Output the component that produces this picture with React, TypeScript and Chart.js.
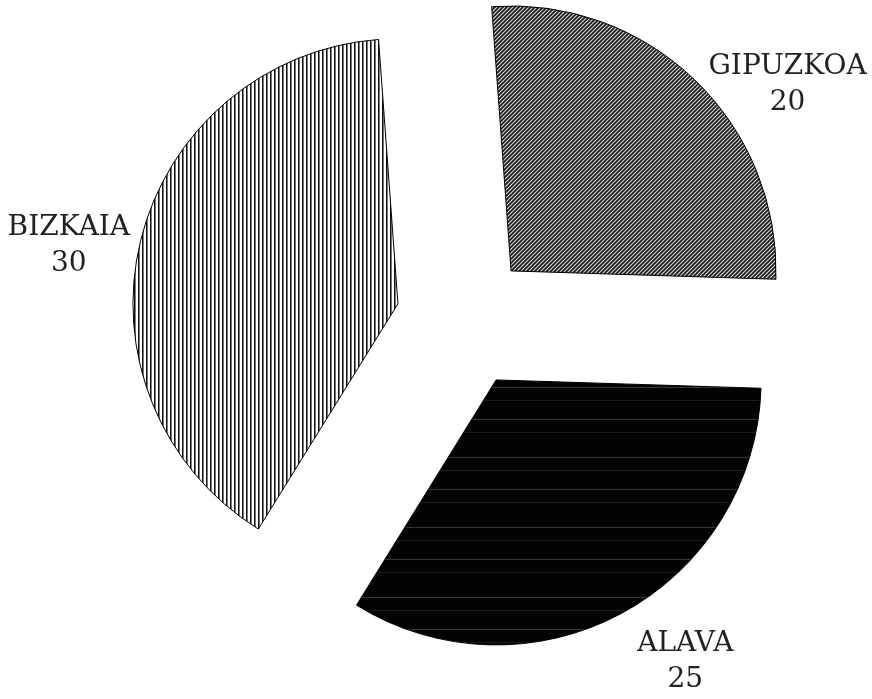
import React, { useEffect, useRef } from "react";
import { Chart, registerables } from "chart.js";

Chart.register(...registerables);

// Provinces, in clockwise drawing order starting just below 3 o'clock
const provinces = ["ALAVA", "BIZKAIA", "GIPUZKOA"];
const counts = [25, 30, 20];

// Layout constants
const EXPLODE = 68; // how far each slice is pulled out from the common centre
const PIE_RADIUS = 265;
const LABEL_RADIUS = 403;
const LABEL_NUDGE_DEG = [-5.1, -2.5, 9.6];
const LABEL_FONT = "28px 'DejaVu Serif'";

function makePattern(
  w: number,
  h: number,
  paint: (g: CanvasRenderingContext2D) => void
): CanvasPattern | string {
  const c = document.createElement("canvas");
  c.width = w;
  c.height = h;
  const g = c.getContext("2d");
  if (!g) return "#777";
  paint(g);
  return g.createPattern(c, "repeat") || "#777";
}

// ALAVA: near-solid black with a few faint horizontal streaks
const alavaFill = () =>
  makePattern(8, 70, (g) => {
    g.fillStyle = "#030303";
    g.fillRect(0, 0, 8, 70);
    g.fillStyle = "#3a3a3a";
    g.fillRect(0, 9, 8, 1);
    g.fillRect(0, 47, 8, 1);
    g.fillStyle = "#1f1f1f";
    g.fillRect(0, 22, 8, 1);
    g.fillRect(0, 60, 8, 1);
  });

// BIZKAIA: thin vertical lines on white
const bizkaiaFill = () =>
  makePattern(4, 4, (g) => {
    g.fillStyle = "#ffffff";
    g.fillRect(0, 0, 4, 4);
    g.fillStyle = "#111111";
    g.fillRect(0, 0, 1, 4);
    g.fillStyle = "#7a7a7a";
    g.fillRect(1, 0, 1, 4);
  });

// GIPUZKOA: dense diagonal hatching
const gipuzkoaFill = () =>
  makePattern(4, 4, (g) => {
    g.fillStyle = "#ffffff";
    g.fillRect(0, 0, 4, 4);
    g.strokeStyle = "#111111";
    g.lineWidth = 1.9;
    g.beginPath();
    g.moveTo(-1, 5);
    g.lineTo(5, -1);
    g.moveTo(-1, 1);
    g.lineTo(1, -1);
    g.moveTo(3, 5);
    g.lineTo(5, 3);
    g.stroke();
  });

// Draws every slice displaced outward along its own bisector
const explodePlugin = {
  id: "explodeSlices",
  beforeDatasetDraw(chart: any, args: any) {
    const ctx = chart.ctx as CanvasRenderingContext2D;
    args.meta.data.forEach((arc: any) => {
      const { startAngle, endAngle } = arc.getProps(["startAngle", "endAngle"], true);
      const mid = (startAngle + endAngle) / 2;
      ctx.save();
      ctx.translate(Math.cos(mid) * EXPLODE, Math.sin(mid) * EXPLODE);
      arc.draw(ctx);
      ctx.restore();
    });
    return false;
  },
};

// Name and value printed outside each slice
const sliceLabelPlugin = {
  id: "sliceLabels",
  afterDatasetsDraw(chart: any) {
    const ctx = chart.ctx as CanvasRenderingContext2D;
    const meta = chart.getDatasetMeta(0);
    ctx.save();
    ctx.font = LABEL_FONT;
    ctx.fillStyle = "#222222";
    ctx.textAlign = "center";
    ctx.textBaseline = "alphabetic";
    meta.data.forEach((arc: any, i: number) => {
      const { x, y, startAngle, endAngle } = arc.getProps(
        ["x", "y", "startAngle", "endAngle"],
        true
      );
      const a = (startAngle + endAngle) / 2 + (LABEL_NUDGE_DEG[i] * Math.PI) / 180;
      const cx = x + Math.cos(a) * LABEL_RADIUS;
      const cy = y + Math.sin(a) * LABEL_RADIUS;
      ctx.fillText(provinces[i], cx, cy - 18 + 12);
      ctx.fillText(String(counts[i]), cx, cy + 18 + 12);
    });
    ctx.restore();
  },
};

export default function App() {
  const canvasRef = useRef<HTMLCanvasElement | null>(null);

  useEffect(() => {
    const canvas = canvasRef.current;
    if (!canvas) return;
    const chart = new Chart(canvas, {
      type: "pie",
      data: {
        labels: provinces,
        datasets: [
          {
            data: counts,
            backgroundColor: [alavaFill(), bizkaiaFill(), gipuzkoaFill()],
            borderColor: "#000000",
            borderWidth: 1,
          },
        ],
      },
      options: {
        responsive: false,
        animation: false,
        devicePixelRatio: 1,
        rotation: 91.8,
        radius: PIE_RADIUS,
        layout: { padding: { left: 56, bottom: 59, top: 0, right: 0 } },
        plugins: {
          legend: { display: false },
          tooltip: { enabled: false },
        },
        events: [],
      } as any,
      plugins: [explodePlugin, sliceLabelPlugin],
    });
    return () => chart.destroy();
  }, []);

  return (
    <div
      style={{
        position: "fixed",
        left: 0,
        top: 0,
        width: 872,
        height: 699,
        background: "#ffffff",
      }}
    >
      <canvas ref={canvasRef} width={872} height={699} style={{ display: "block" }} />
    </div>
  );
}
